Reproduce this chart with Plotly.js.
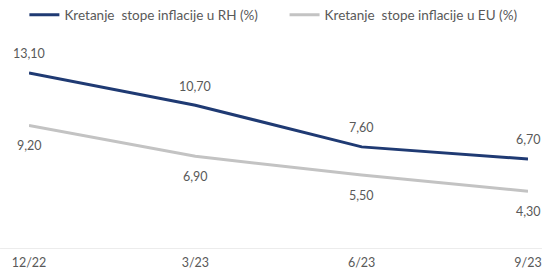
<!DOCTYPE html>
<html><head><meta charset="utf-8">
<script src="https://cdn.plot.ly/plotly-3.0.1.min.js"></script>
<style>html,body{margin:0;padding:0;background:#fff;}#chart{width:542px;height:273px;}</style>
</head><body><div id="chart"></div>
<script>
const categories = ["12/22", "3/23", "6/23", "9/23"];
const rhValues = [13.10, 10.70, 7.60, 6.70];
const euValues = [9.20, 6.90, 5.50, 4.30];
const rhName = "Kretanje\u00a0 stope inflacije u RH (%)";
const euName = "Kretanje\u00a0 stope inflacije u EU (%)";

const fmt = v => v.toFixed(2).replace('.', ',');
const xs = categories.map((c, i) => i);

const labelFont = {family: "Lato, 'Open Sans', sans-serif", size: 12.5, color: "#595959"};
const legendFont = {family: "Lato, 'Open Sans', sans-serif", size: 13.5, color: "#595959"};
const annotations = [];
xs.forEach((x, i) => {
  annotations.push({x: x, y: rhValues[i], xref: 'x', yref: 'y', text: fmt(rhValues[i]), showarrow: false, yshift: 19, font: labelFont});
  annotations.push({x: x, y: euValues[i], xref: 'x', yref: 'y', text: fmt(euValues[i]), showarrow: false, yshift: -20, font: labelFont});
});

const data = [
  {x: xs, y: rhValues, type: 'scatter', mode: 'lines', name: rhName, legend: 'legend', line: {color: '#1f3a73', width: 3}},
  {x: xs, y: euValues, type: 'scatter', mode: 'lines', name: euName, legend: 'legend2', line: {color: '#c3c3c3', width: 3}}
];

const layout = {
  width: 542, height: 273,
  margin: {l: 29, r: 14, t: 34, b: 24},
  paper_bgcolor: '#fff', plot_bgcolor: '#fff',
  font: labelFont,
  showlegend: true,
  legend: {orientation: 'h', xref: 'container', yref: 'container', x: 0.045, y: 0.945, xanchor: 'left', yanchor: 'middle', font: legendFont, bgcolor: 'rgba(0,0,0,0)'},
  legend2: {orientation: 'h', xref: 'container', yref: 'container', x: 0.525, y: 0.945, xanchor: 'left', yanchor: 'middle', font: legendFont, bgcolor: 'rgba(0,0,0,0)'},
  xaxis: {range: [0, 3], tickvals: xs, ticktext: categories, showgrid: false, zeroline: false, showline: false,
          ticks: '', ticklabelstandoff: 4, fixedrange: true, tickfont: labelFont},
  yaxis: {range: [0, 16], visible: false, fixedrange: true},
  shapes: [{type: 'line', xref: 'paper', yref: 'y', x0: -0.058, x1: 1.028, y0: 0, y1: 0, line: {color: '#d9d9d9', width: 1}}],
  annotations: annotations
};

Plotly.newPlot('chart', data, layout, {displayModeBar: false, staticPlot: true});
</script></body></html>
